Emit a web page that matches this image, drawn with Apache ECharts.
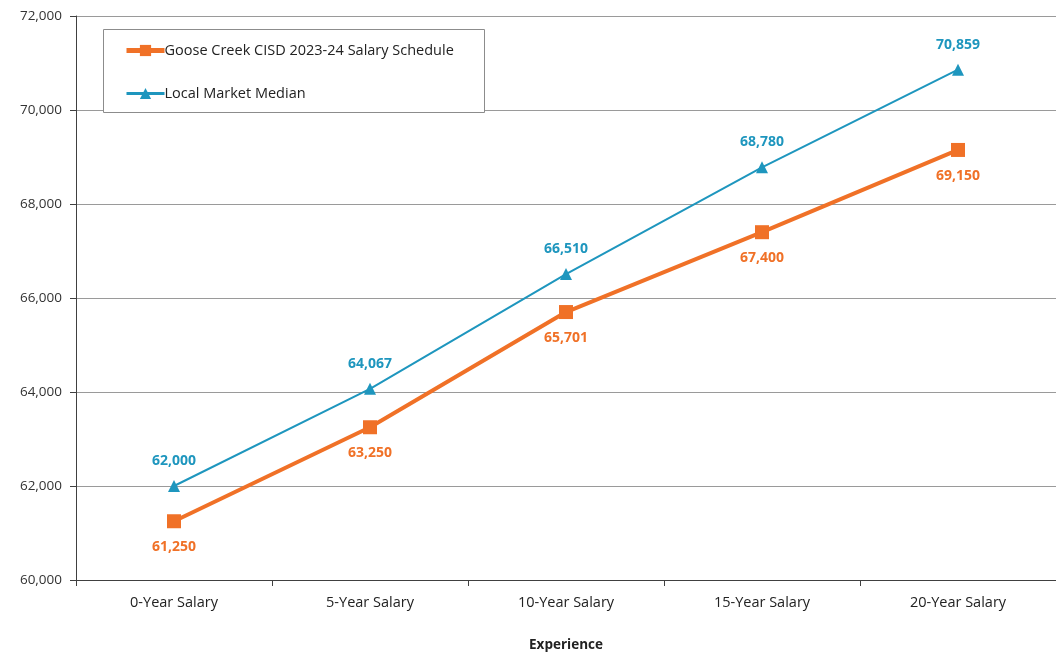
<!DOCTYPE html>
<html>
<head>
<meta charset="utf-8">
<script src="https://cdn.jsdelivr.net/npm/echarts@6/dist/echarts.min.js"></script>
<style>
  html, body { margin: 0; padding: 0; background: #fff; }
  #chart { width: 1056px; height: 657px; }
</style>
</head>
<body>
<div id="chart"></div>
<script>
const categories = ['0-Year Salary', '5-Year Salary', '10-Year Salary', '15-Year Salary', '20-Year Salary']
const gooseCreek = [61250, 63250, 65701, 67400, 69150]
const marketMedian = [62000, 64067, 66510, 68780, 70859]
const seriesNames = ['Goose Creek CISD 2023-24 Salary Schedule', 'Local Market Median']

const orange = '#F07127'
const blue = '#1E96BE'
const font = 'Open Sans, Liberation Sans, sans-serif'

const fmt = v => v.toLocaleString('en-US')

const chart = echarts.init(document.getElementById('chart'))
chart.setOption({
  animation: false,
  textStyle: { fontFamily: font },
  grid: { left: 76, width: 983, top: 16, bottom: 76 },
  // legend frame drawn separately so it can match the reference size
  graphic: [{
    type: 'rect',
    left: 103, top: 29,
    shape: { width: 381, height: 83 },
    style: { fill: '#fff', stroke: '#8c8c8c', lineWidth: 1 },
    z: 5
  }],
  legend: {
    orient: 'vertical',
    left: 124,
    top: 43,
    padding: 0,
    itemGap: 28,
    itemWidth: 38,
    itemHeight: 14,
    z: 6,
    textStyle: { fontSize: 14.5, color: '#222', padding: [0, 0, 0, -5] },
    data: [
      { name: seriesNames[0], lineStyle: { width: 5 }, itemStyle: { color: orange } },
      { name: seriesNames[1], lineStyle: { width: 3 } }
    ]
  },
  xAxis: {
    type: 'category',
    data: categories,
    name: 'Experience',
    nameLocation: 'middle',
    nameGap: 58,
    nameTextStyle: { fontSize: 13.5, fontWeight: 'bold', color: '#222' },
    axisLine: { lineStyle: { color: '#404040', width: 1 } },
    axisTick: { show: true, length: 6, lineStyle: { color: '#404040' } },
    axisLabel: { fontSize: 14.5, color: '#222', margin: 15 }
  },
  yAxis: {
    type: 'value',
    min: 60000,
    max: 72000,
    interval: 2000,
    axisLine: { show: true, lineStyle: { color: '#404040' } },
    axisTick: { show: true, length: 6, lineStyle: { color: '#404040' } },
    axisLabel: { fontSize: 13.5, color: '#333', margin: 14, formatter: fmt },
    splitLine: { lineStyle: { color: '#9a9a9a' } }
  },
  series: [
    {
      name: seriesNames[0],
      type: 'line',
      data: gooseCreek,
      symbol: 'rect',
      symbolSize: 14,
      lineStyle: { color: orange, width: 4 },
      itemStyle: { color: orange },
      label: {
        show: true, position: 'bottom', distance: 12,
        color: orange, fontWeight: 'bold', fontSize: 14,
        formatter: p => fmt(p.value)
      },
      z: 3
    },
    {
      name: seriesNames[1],
      type: 'line',
      data: marketMedian,
      symbol: 'triangle',
      symbolSize: 12,
      lineStyle: { color: blue, width: 2 },
      itemStyle: { color: blue },
      label: {
        show: true, position: 'top', distance: 12,
        color: blue, fontWeight: 'bold', fontSize: 14,
        formatter: p => fmt(p.value)
      },
      z: 2
    }
  ]
})
</script>
</body>
</html>
